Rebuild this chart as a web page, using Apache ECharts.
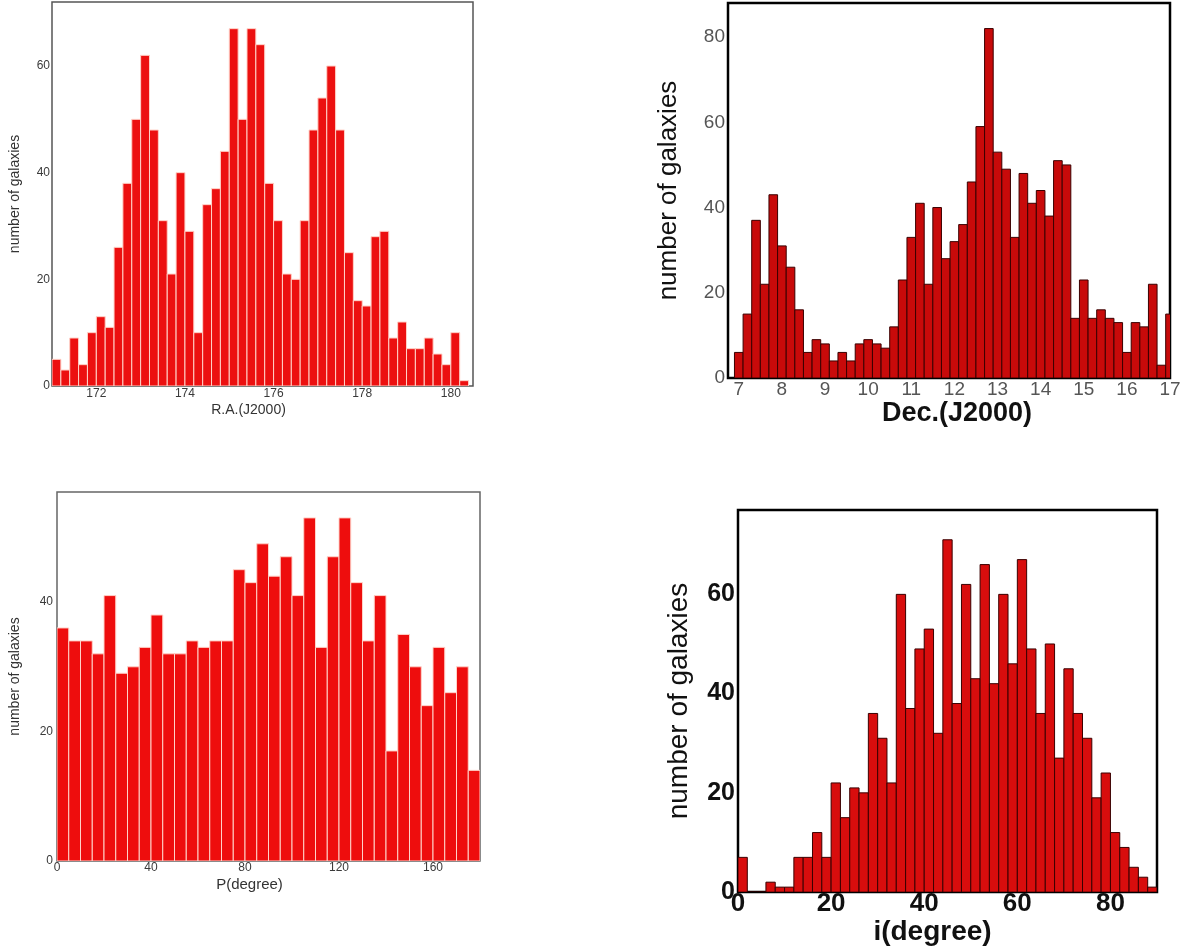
<!DOCTYPE html>
<html>
<head>
<meta charset="utf-8">
<script src="https://cdn.jsdelivr.net/npm/echarts@6/dist/echarts.min.js"></script>
<style>
html,body{margin:0;padding:0;background:#fff;}
#chart{width:1188px;height:947px;}
</style>
</head>
<body>
<div id="chart"></div>
<script>
// ---- Panel 1: R.A.(J2000), bin width 0.2 ----
const raEdges = [171.0,171.2,171.4,171.6,171.8,172.0,172.2,172.4,172.6,172.8,173.0,173.2,173.4,173.6,173.8,174.0,174.2,174.4,174.6,174.8,175.0,175.2,175.4,175.6,175.8,176.0,176.2,176.4,176.6,176.8,177.0,177.2,177.4,177.6,177.8,178.0,178.2,178.4,178.6,178.8,179.0,179.2,179.4,179.6,179.8,180.0,180.2];
const raCounts = [5,3,9,4,10,13,11,26,38,50,62,48,31,21,40,29,10,34,37,44,67,50,67,64,38,31,21,20,31,48,54,60,48,25,16,15,28,29,9,12,7,7,9,6,4,10,1];
const raBinWidth = 0.2;
const raXTicks = [172,174,176,178,180];
const raYTicks = [0,20,40,60];

// ---- Panel 2: Dec.(J2000), bin width 0.2 ----
const decEdges = [6.9,7.1,7.3,7.5,7.7,7.9,8.1,8.3,8.5,8.7,8.9,9.1,9.3,9.5,9.7,9.9,10.1,10.3,10.5,10.7,10.9,11.1,11.3,11.5,11.7,11.9,12.1,12.3,12.5,12.7,12.9,13.1,13.3,13.5,13.7,13.9,14.1,14.3,14.5,14.7,14.9,15.1,15.3,15.5,15.7,15.9,16.1,16.3,16.5,16.7,16.9];
const decCounts = [6,15,37,22,43,31,26,16,6,9,8,4,6,4,8,9,8,7,12,23,33,41,22,40,28,32,36,46,59,82,53,49,33,48,41,44,38,51,50,14,23,14,16,14,13,6,13,12,22,3,15];
const decBinWidth = 0.2;
const decXTicks = [7,8,9,10,11,12,13,14,15,16,17];
const decYTicks = [0,20,40,60,80];

// ---- Panel 3: P(degree), bin width 5 ----
const pEdges = [0,5,10,15,20,25,30,35,40,45,50,55,60,65,70,75,80,85,90,95,100,105,110,115,120,125,130,135,140,145,150,155,160,165,170,175];
const pCounts = [36,34,34,32,41,29,30,33,38,32,32,34,33,34,34,45,43,49,44,47,41,53,33,47,53,43,34,41,17,35,30,24,33,26,30,14];
const pBinWidth = 5;
const pXTicks = [0,40,80,120,160];
const pYTicks = [0,20,40];

// ---- Panel 4: i(degree), bin width 2 ----
const iEdges = [0,2,4,6,8,10,12,14,16,18,20,22,24,26,28,30,32,34,36,38,40,42,44,46,48,50,52,54,56,58,60,62,64,66,68,70,72,74,76,78,80,82,84,86,88];
const iCounts = [7,0,0,2,1,1,7,7,12,7,22,15,21,20,36,31,22,60,37,49,53,32,71,38,62,43,66,42,60,46,67,49,36,50,27,45,36,31,19,24,12,9,5,3,1];
const iBinWidth = 2;
const iXTicks = [0,20,40,60,80];
const iYTicks = [0,20,40,60];

const FONT = 'Liberation Sans, Arial, Helvetica, sans-serif';

function barRenderer(bw, fill, stroke, lw) {
  return function (params, api) {
    const x0 = api.value(0);
    const v = api.value(1);
    const a = api.coord([x0, v]);
    const b = api.coord([x0 + bw, 0]);
    return {
      type: 'rect',
      shape: { x: a[0], y: a[1], width: b[0] - a[0], height: b[1] - a[1] },
      style: { fill: fill, stroke: stroke, lineWidth: lw }
    };
  };
}

function pairs(edges, counts) {
  return edges.map(function (e, i) { return [e, counts[i]]; });
}

const chart = echarts.init(document.getElementById('chart'), null, { renderer: 'canvas' });

const option = {
  animation: false,
  backgroundColor: '#ffffff',
  grid: [
    { left: 52, top: 2, width: 421, height: 384, show: true, borderColor: '#555', borderWidth: 1.5, backgroundColor: 'transparent' },
    { left: 728, top: 3, width: 442, height: 375, show: true, borderColor: '#000', borderWidth: 2.5, backgroundColor: 'transparent' },
    { left: 57, top: 492, width: 423, height: 369, show: true, borderColor: '#666', borderWidth: 1.5, backgroundColor: 'transparent' },
    { left: 738, top: 510, width: 419, height: 383, show: true, borderColor: '#000', borderWidth: 2.5, backgroundColor: 'transparent' }
  ],
  xAxis: [
    {
      gridIndex: 0, type: 'value', min: 171.0, max: 180.5,
      name: 'R.A.(J2000)', nameLocation: 'middle', nameGap: 17,
      nameTextStyle: { fontFamily: FONT, fontSize: 14, color: '#333', padding: [0, 28, 0, 0] },
      axisLine: { show: false }, axisTick: { show: false }, splitLine: { show: false },
      axisLabel: { customValues: raXTicks, fontFamily: FONT, fontSize: 12, color: '#3a3a3a', margin: 2 }
    },
    {
      gridIndex: 1, type: 'value', min: 6.75, max: 17,
      name: 'Dec.(J2000)', nameLocation: 'middle', nameGap: 22,
      nameTextStyle: { fontFamily: FONT, fontSize: 27, fontWeight: 'bold', color: '#111', padding: [0, 0, 0, 16] },
      axisLine: { show: false }, axisTick: { show: false }, splitLine: { show: false },
      axisLabel: { customValues: decXTicks, fontFamily: FONT, fontSize: 19, color: '#555', margin: 2 }
    },
    {
      gridIndex: 2, type: 'value', min: 0, max: 180,
      name: 'P(degree)', nameLocation: 'middle', nameGap: 16,
      nameTextStyle: { fontFamily: FONT, fontSize: 15, color: '#333', padding: [0, 38, 0, 0] },
      axisLine: { show: false }, axisTick: { show: false }, splitLine: { show: false },
      axisLabel: { customValues: pXTicks, fontFamily: FONT, fontSize: 12, color: '#3a3a3a', margin: 1 }
    },
    {
      gridIndex: 3, type: 'value', min: 0, max: 90,
      name: 'i(degree)', nameLocation: 'middle', nameGap: 20,
      nameTextStyle: { fontFamily: FONT, fontSize: 28, fontWeight: 'bold', color: '#111', padding: [0, 30, 0, 0] },
      axisLine: { show: false }, axisTick: { show: false }, splitLine: { show: false },
      axisLabel: { customValues: iXTicks, fontFamily: FONT, fontSize: 26, fontWeight: 'bold', color: '#111', margin: -1 }
    }
  ],
  yAxis: [
    {
      gridIndex: 0, type: 'value', min: 0, max: 72,
      name: 'number of galaxies', nameLocation: 'middle', nameGap: 30, nameRotate: 90,
      nameTextStyle: { fontFamily: FONT, fontSize: 14, color: '#333' },
      axisLine: { show: false }, axisTick: { show: false }, splitLine: { show: false },
      axisLabel: { customValues: raYTicks, fontFamily: FONT, fontSize: 12, color: '#3a3a3a', margin: 2 }
    },
    {
      gridIndex: 1, type: 'value', min: 0, max: 88,
      name: 'number of galaxies', nameLocation: 'middle', nameGap: 46, nameRotate: 90,
      nameTextStyle: { fontFamily: FONT, fontSize: 26, color: '#111' },
      axisLine: { show: false }, axisTick: { show: false }, splitLine: { show: false },
      axisLabel: { customValues: decYTicks, fontFamily: FONT, fontSize: 19, color: '#555', margin: 3 }
    },
    {
      gridIndex: 2, type: 'value', min: 0, max: 57,
      name: 'number of galaxies', nameLocation: 'middle', nameGap: 35, nameRotate: 90,
      nameTextStyle: { fontFamily: FONT, fontSize: 14, color: '#333' },
      axisLine: { show: false }, axisTick: { show: false }, splitLine: { show: false },
      axisLabel: { customValues: pYTicks, fontFamily: FONT, fontSize: 12, color: '#3a3a3a', margin: 4 }
    },
    {
      gridIndex: 3, type: 'value', min: 0, max: 77,
      name: 'number of galaxies', nameLocation: 'middle', nameGap: 45, nameRotate: 90,
      nameTextStyle: { fontFamily: FONT, fontSize: 28, color: '#111' },
      axisLine: { show: false }, axisTick: { show: false }, splitLine: { show: false },
      axisLabel: { customValues: iYTicks, fontFamily: FONT, fontSize: 25, fontWeight: 'bold', color: '#111', margin: 3 }
    }
  ],
  series: [
    {
      type: 'custom', xAxisIndex: 0, yAxisIndex: 0, clip: true,
      renderItem: barRenderer(raBinWidth, '#ec1010', '#ffd2c8', 1),
      encode: { x: 0, y: 1 }, data: pairs(raEdges, raCounts)
    },
    {
      type: 'custom', xAxisIndex: 1, yAxisIndex: 1, clip: true,
      renderItem: barRenderer(decBinWidth, '#c80a0a', '#3a0000', 1),
      encode: { x: 0, y: 1 }, data: pairs(decEdges, decCounts)
    },
    {
      type: 'custom', xAxisIndex: 2, yAxisIndex: 2, clip: true,
      renderItem: barRenderer(pBinWidth, '#ee0d0d', '#ffd2c8', 1),
      encode: { x: 0, y: 1 }, data: pairs(pEdges, pCounts)
    },
    {
      type: 'custom', xAxisIndex: 3, yAxisIndex: 3, clip: true,
      renderItem: barRenderer(iBinWidth, '#d80d0d', '#3a0000', 1),
      encode: { x: 0, y: 1 }, data: pairs(iEdges, iCounts)
    }
  ]
};

chart.setOption(option);
</script>
</body>
</html>
